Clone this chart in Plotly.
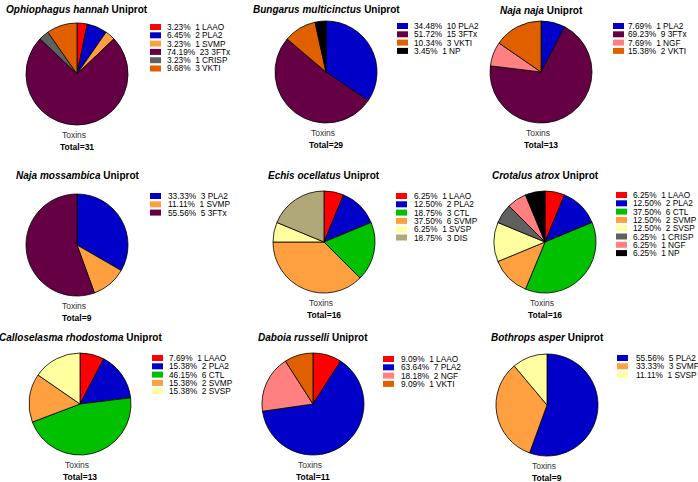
import plotly.graph_objects as go

W, H = 698, 482

# ---- data ----
species = ["Ophiophagus hannah", "Bungarus multicinctus", "Naja naja",
           "Naja mossambica", "Echis ocellatus", "Crotalus atrox",
           "Calloselasma rhodostoma", "Daboia russelli", "Bothrops asper"]

toxins_oh = ["LAAO", "PLA2", "SVMP", "3FTx", "CRISP", "VKTI"]
counts_oh = [1, 2, 1, 23, 1, 3]
toxins_bm = ["PLA2", "3FTx", "VKTI", "NP"]
counts_bm = [10, 15, 3, 1]
toxins_nn = ["PLA2", "3FTx", "NGF", "VKTI"]
counts_nn = [1, 9, 1, 2]
toxins_nm = ["PLA2", "SVMP", "3FTx"]
counts_nm = [3, 1, 5]
toxins_eo = ["LAAO", "PLA2", "CTL", "SVMP", "SVSP", "DIS"]
counts_eo = [1, 2, 3, 6, 1, 3]
toxins_ca = ["LAAO", "PLA2", "CTL", "SVMP", "SVSP", "CRISP", "NGF", "NP"]
counts_ca = [1, 2, 6, 2, 2, 1, 1, 1]
toxins_cr = ["LAAO", "PLA2", "CTL", "SVMP", "SVSP"]
counts_cr = [1, 2, 6, 2, 2]
toxins_dr = ["LAAO", "PLA2", "NGF", "VKTI"]
counts_dr = [1, 7, 2, 1]
toxins_ba = ["PLA2", "SVMP", "SVSP"]
counts_ba = [5, 3, 1]

all_toxins = [toxins_oh, toxins_bm, toxins_nn, toxins_nm, toxins_eo,
              toxins_ca, toxins_cr, toxins_dr, toxins_ba]
all_counts = [counts_oh, counts_bm, counts_nn, counts_nm, counts_eo,
              counts_ca, counts_cr, counts_dr, counts_ba]

colors = {"LAAO": "#FF0000", "PLA2": "#0000C8", "SVMP": "#FFA040",
          "3FTx": "#660044", "CRISP": "#606060", "VKTI": "#E06000",
          "NP": "#000000", "NGF": "#FF8080", "CTL": "#00C000",
          "SVSP": "#FFFFA0", "DIS": "#B0A878"}

# ---- layout (pixels) ----
centers = [(77, 74), (326, 72), (541, 72),
           (77, 245), (324, 242), (545, 242),
           (80, 404), (313, 404), (547, 405)]
radius = 51
title_y = [9, 9, 10, 175, 175, 175, 337, 337, 337]
leg_sw_x = [150, 397, 613, 150, 396, 616, 152, 383, 617]
leg_tx_x = [165, 412, 626, 166, 412, 631, 167, 399, 634]
leg_y0 = [27, 26, 26, 196, 196, 195, 358, 359, 358]
row_h = 8.3

FONT = "Liberation Sans, Arial, sans-serif"

fig = go.Figure()
shapes = []
annotations = []

def px(x):
    return x / W

def py(y):
    return 1 - y / H

for i, (sp, tox, cnt) in enumerate(zip(species, all_toxins, all_counts)):
    cx, cy = centers[i]
    total = sum(cnt)
    fig.add_trace(go.Pie(
        labels=tox, values=cnt, sort=False, direction="clockwise",
        rotation=0, textinfo="none", hoverinfo="label+value+percent",
        marker=dict(colors=[colors[t] for t in tox],
                    line=dict(color="#000000", width=0.8)),
        domain=dict(x=[px(cx - radius), px(cx + radius)],
                    y=[py(cy + radius), py(cy - radius)]),
        showlegend=False,
    ))
    annotations.append(dict(
        x=px(cx), y=py(title_y[i]), xref="paper", yref="paper",
        text=f"<b><i>{sp}</i> Uniprot</b>", showarrow=False,
        font=dict(family=FONT, size=10, color="#000"),
        xanchor="center", yanchor="middle"))
    annotations.append(dict(
        x=px(cx - 3), y=py(cy + 61), xref="paper", yref="paper",
        text="Toxins", showarrow=False,
        font=dict(family=FONT, size=8.5, color="#333"),
        xanchor="center", yanchor="middle"))
    annotations.append(dict(
        x=px(cx), y=py(cy + 73), xref="paper", yref="paper",
        text=f"<b>Total={total}</b>", showarrow=False,
        font=dict(family=FONT, size=8.5, color="#000"),
        xanchor="center", yanchor="middle"))
    for j, (t, c) in enumerate(zip(tox, cnt)):
        yy = leg_y0[i] + j * row_h
        shapes.append(dict(
            type="rect", xref="paper", yref="paper",
            x0=px(leg_sw_x[i]), x1=px(leg_sw_x[i] + 11),
            y0=py(yy + 3), y1=py(yy - 3),
            fillcolor=colors[t], line=dict(width=0)))
        pct = 100 * c / total
        annotations.append(dict(
            x=px(leg_tx_x[i]), y=py(yy), xref="paper", yref="paper",
            text=f"{pct:.2f}%\u00a0\u00a0{c} {t}", showarrow=False,
            font=dict(family=FONT, size=8.3, color="#000"),
            xanchor="left", yanchor="middle"))

fig.update_layout(
    width=W, height=H, margin=dict(l=0, r=0, t=0, b=0),
    paper_bgcolor="white", plot_bgcolor="white",
    shapes=shapes, annotations=annotations, showlegend=False,
)

fig.write_html(
    "out.html",
    config={"displayModeBar": False},
    post_script="document.body.style.margin='0';document.body.style.padding='0';document.body.style.overflow='hidden';",
)
